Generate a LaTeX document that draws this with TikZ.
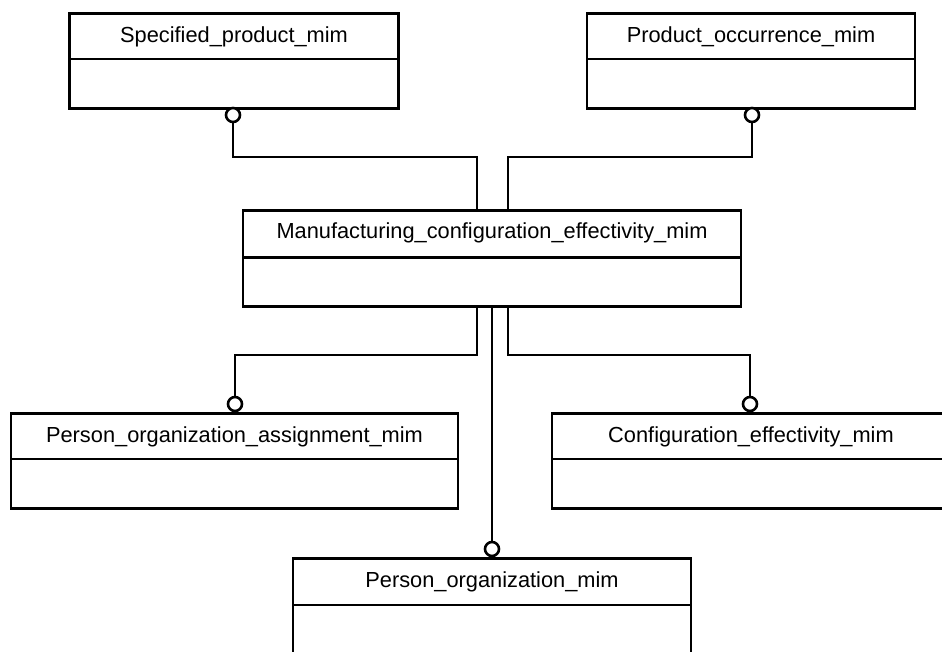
\documentclass[tikz,border=0pt]{standalone}
\usepackage{fontspec}
\setmainfont{Liberation Sans}
\begin{document}
\begin{tikzpicture}[x=1pt,y=-1pt,
  box/.style={draw, line width=2.7pt, inner sep=0pt, anchor=north, minimum height=95pt},
  ttl/.style={font=\fontsize{21.8}{26}\selectfont, inner sep=0pt, anchor=base},
  divline/.style={line width=2.5pt},
  conn/.style={line width=2.7pt},
  lollipop/.style={circle, draw, line width=2.6pt, fill=white, minimum size=14pt, inner sep=0pt}]
\useasboundingbox (0,0) rectangle (942,651);

% boxes
\node[box, minimum width=329pt] (spm) at (234,12) {};
\node[box, minimum width=328pt] (pom) at (751,12) {};
\node[box, minimum width=498pt, minimum height=96pt] (mcem) at (492,209) {};
\node[box, minimum width=447pt] (poam) at (234.5,412) {};
\node[box, minimum width=398pt] (cem) at (751,412) {};
\node[box, minimum width=398pt, minimum height=110pt] (porg) at (492,557) {};

% dividers
\draw[divline] (69.5,59) -- (398.5,59);
\draw[divline] (587,59) -- (915,59);
\draw[divline] (243,257.5) -- (741,257.5);
\draw[divline] (11,459) -- (458,459);
\draw[divline] (552,459) -- (950,459);
\draw[divline] (293,605) -- (691,605);

% titles
\node[ttl] (tspm) at (234,42) {Specified\_product\_mim};
\node[ttl] (tpom) at (751,42) {Product\_occurrence\_mim};
\node[ttl] (tmcem) at (492,238.5) {Manufacturing\_configuration\_effectivity\_mim};
\node[ttl] (tpoam) at (234.5,442) {Person\_organization\_assignment\_mim};
\node[ttl] (tcem) at (751,442) {Configuration\_effectivity\_mim};
\node[ttl] (tporg) at (492,587) {Person\_organization\_mim};

% junction points
\coordinate (k1) at (477,157);
\coordinate (k2) at (508,157);
\coordinate (k3) at (477,355);
\coordinate (k4) at (508,355);

% lollipops
\node[lollipop] (c1) at (233,115) {};
\node[lollipop] (c2) at (752,115) {};
\node[lollipop] (c3) at (235,404) {};
\node[lollipop] (c4) at (750,404) {};
\node[lollipop] (c5) at (492,549) {};

% connectors
\draw[conn] (c1.south) |- (k1) -- (k1 |- mcem.north);
\draw[conn] (c2.south) |- (k2) -- (k2 |- mcem.north);
\draw[conn] (k3 |- mcem.south) -- (k3) -| (c3.north);
\draw[conn] (k4 |- mcem.south) -- (k4) -| (c4.north);
\draw[conn] (mcem.south -| c5) -- (c5.north);
\end{tikzpicture}
\end{document}
